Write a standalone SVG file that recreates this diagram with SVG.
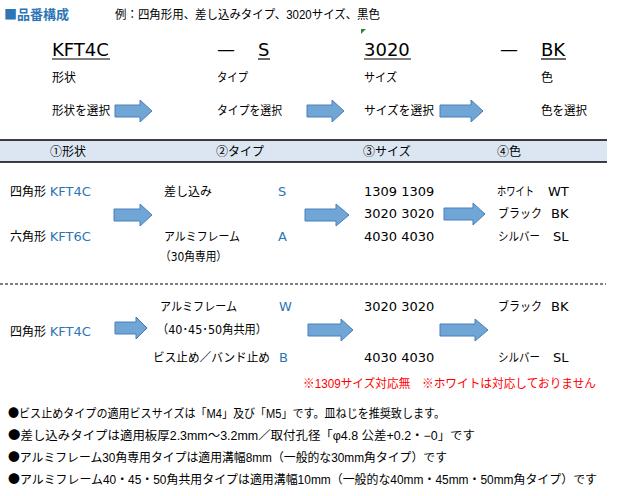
<svg xmlns="http://www.w3.org/2000/svg" width="620" height="496" viewBox="0 0 620 496">
<style>
text{font-family:"DejaVu Sans","Noto Sans CJK JP",sans-serif;font-size:12px;fill:#000}
.cjk{font-family:"Noto Sans CJK JP",sans-serif}
.lib{font-family:"Liberation Sans","Noto Sans CJK JP",sans-serif}
.lat{font-size:13px}
.big{font-size:18px}
.blue{fill:#2E75B6}
.title{fill:#2E75B6;font-weight:bold;font-size:13px;font-family:"Noto Sans CJK JP",sans-serif}
.red{fill:#FF0000}
.arr{fill:#6FA6D6;stroke:#4A7EBB;stroke-width:1}
.ul{stroke:#000;stroke-width:1.2}
</style>
<rect width="620" height="496" fill="#fff"/>

<g id="heading">
<text x="4" y="19" class="title">■品番構成</text>
<text x="115" y="19" class="lib" textLength="265" lengthAdjust="spacingAndGlyphs">例：四角形用、差し込みタイプ、3020サイズ、黒色</text>
<path d="M361,29 L366,29 L361,34 Z" fill="#2E8B2E"/>
</g>

<g id="code">
<text x="52" y="56" class="big">KFT4C</text>
<line x1="52" y1="59" x2="110" y2="59" class="ul"/>
<text x="217" y="55" class="big">—</text>
<text x="258" y="56" class="big">S</text>
<line x1="258" y1="59" x2="270" y2="59" class="ul"/>
<text x="364" y="56" class="big">3020</text>
<line x1="364" y1="59" x2="411" y2="59" class="ul"/>
<text x="500" y="55" class="big">—</text>
<text x="541" y="56" class="big">BK</text>
<line x1="541" y1="59" x2="566" y2="59" class="ul"/>
<text x="52" y="82">形状</text>
<text x="217" y="82" textLength="31" lengthAdjust="spacingAndGlyphs">タイプ</text>
<text x="364" y="82" textLength="33" lengthAdjust="spacingAndGlyphs">サイズ</text>
<text x="541" y="82">色</text>
<text x="52" y="115" textLength="58" lengthAdjust="spacingAndGlyphs">形状を選択</text>
<text x="217" y="115" textLength="65" lengthAdjust="spacingAndGlyphs">タイプを選択</text>
<text x="364" y="115" textLength="70" lengthAdjust="spacingAndGlyphs">サイズを選択</text>
<text x="541" y="115" textLength="46" lengthAdjust="spacingAndGlyphs">色を選択</text>
</g>

<g id="header">
<rect x="0" y="140" width="607" height="22" fill="#DCE6F2"/>
<line x1="0" y1="140" x2="607" y2="140" stroke="#000" stroke-width="1.5"/>
<line x1="0" y1="162" x2="607" y2="162" stroke="#000" stroke-width="1.5"/>
<text x="50" y="156" class="cjk">①形状</text>
<text x="216" y="156" class="cjk">②タイプ</text>
<text x="363" y="156" class="cjk">③サイズ</text>
<text x="497" y="156" class="cjk">④色</text>
</g>

<g id="section1">
<text x="10" y="196">四角形 <tspan class="blue lat">KFT4C</tspan></text>
<text x="10" y="241">六角形 <tspan class="blue lat">KFT6C</tspan></text>
<text x="164" y="196">差し込み</text>
<text x="278" y="196" class="blue lat">S</text>
<text x="164" y="241" textLength="76" lengthAdjust="spacingAndGlyphs">アルミフレーム</text>
<text x="278" y="241" class="blue lat">A</text>
<text x="160" y="261" textLength="67" lengthAdjust="spacingAndGlyphs">（30角専用）</text>
<text x="364" y="196" class="lat">1309 1309</text>
<text x="364" y="218" class="lat">3020 3020</text>
<text x="364" y="241" class="lat">4030 4030</text>
<text x="497" y="196" textLength="37" lengthAdjust="spacingAndGlyphs">ホワイト</text>
<text x="548" y="196" class="lat">WT</text>
<text x="498" y="218" textLength="44" lengthAdjust="spacingAndGlyphs">ブラック</text>
<text x="551" y="218" class="lat">BK</text>
<text x="498" y="241" textLength="42" lengthAdjust="spacingAndGlyphs">シルバー</text>
<text x="553" y="241" class="lat">SL</text>
</g>

<line x1="0" y1="284" x2="606" y2="284" stroke="#000" stroke-width="1" stroke-dasharray="3,2"/>

<g id="section2">
<text x="10" y="336">四角形 <tspan class="blue lat">KFT4C</tspan></text>
<text x="160" y="311" textLength="77" lengthAdjust="spacingAndGlyphs">アルミフレーム</text>
<text x="279" y="311" class="blue lat">W</text>
<text x="157" y="334" textLength="110" lengthAdjust="spacingAndGlyphs">（40･45･50角共用）</text>
<text x="153" y="362" textLength="117" lengthAdjust="spacingAndGlyphs">ビス止め／バンド止め</text>
<text x="279" y="362" class="blue lat">B</text>
<text x="364" y="311" class="lat">3020 3020</text>
<text x="364" y="362" class="lat">4030 4030</text>
<text x="498" y="311" textLength="44" lengthAdjust="spacingAndGlyphs">ブラック</text>
<text x="551" y="311" class="lat">BK</text>
<text x="498" y="362" textLength="42" lengthAdjust="spacingAndGlyphs">シルバー</text>
<text x="553" y="362" class="lat">SL</text>
<text x="303" y="388" class="red lib" textLength="293" lengthAdjust="spacingAndGlyphs">※1309サイズ対応無　※ホワイトは対応しておりません</text>
</g>

<g id="notes" class="lib">
<text x="8" y="418" class="lib" textLength="437" lengthAdjust="spacingAndGlyphs"><tspan class="cjk">●</tspan>ビス止めタイプの適用ビスサイズは「M4」及び「M5」です。皿ねじを推奨致します。</text>
<text x="8" y="440" class="lib" textLength="467" lengthAdjust="spacingAndGlyphs"><tspan class="cjk">●</tspan>差し込みタイプは適用板厚2.3mm～3.2mm／取付孔径「φ4.8 公差+0.2・−0」です</text>
<text x="8" y="462" class="lib" textLength="439" lengthAdjust="spacingAndGlyphs"><tspan class="cjk">●</tspan>アルミフレーム30角専用タイプは適用溝幅8mm（一般的な30mm角タイプ）です</text>
<text x="8" y="484" class="lib" textLength="589" lengthAdjust="spacingAndGlyphs"><tspan class="cjk">●</tspan>アルミフレーム40・45・50角共用タイプは適用溝幅10mm（一般的な40mm・45mm・50mm角タイプ）です</text>
</g>

<g id="connectors">
<path class="arr" d="M115,105 H140 V100 L152,111 L140,122 V117 H115 Z"/>
<path class="arr" d="M307,105 H332 V100 L344,111 L332,122 V117 H307 Z"/>
<path class="arr" d="M440,105 H471 V100 L483,111 L471,122 V117 H440 Z"/>
<path class="arr" d="M114,209 H140 V204 L152,215 L140,226 V221 H114 Z"/>
<path class="arr" d="M305,209 H336 V204 L349,215 L336,226 V221 H305 Z"/>
<path class="arr" d="M444,208 H473 V203 L485,214 L473,225 V220 H444 Z"/>
<path class="arr" d="M115,322 H136 V317 L147,328 L136,339 V334 H115 Z"/>
<path class="arr" d="M308,324 H341 V319 L353,330 L341,341 V336 H308 Z"/>
<path class="arr" d="M440,324 H475 V319 L488,330 L475,341 V336 H440 Z"/>
</g>
</svg>
